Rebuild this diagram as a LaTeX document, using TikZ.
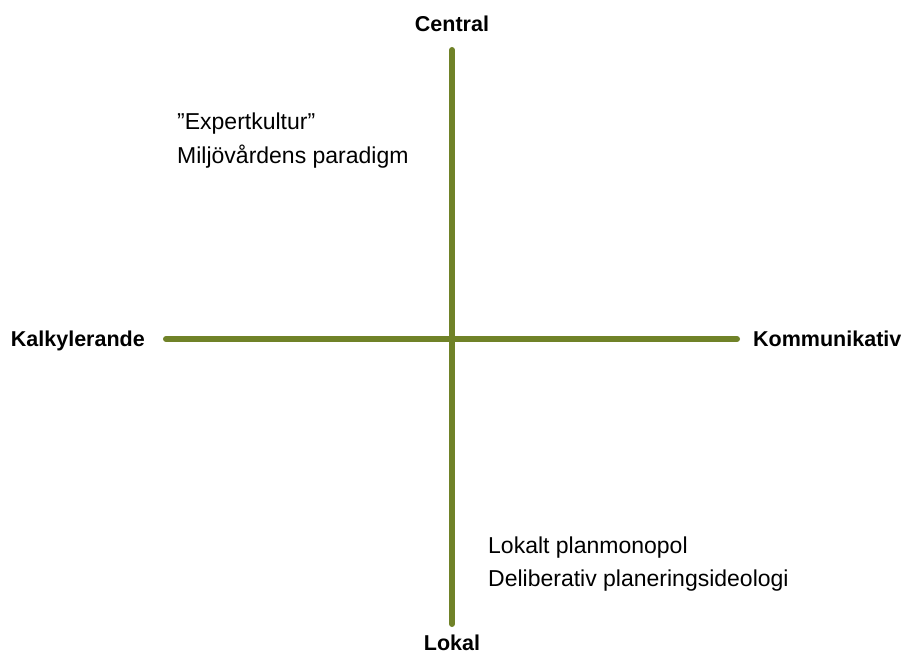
\documentclass[tikz,border=0pt]{standalone}
\usepackage{fontspec}
\setmainfont{Liberation Sans}
\usetikzlibrary{positioning}
\definecolor{axisgreen}{RGB}{112,130,40}
\tikzset{
	axis/.style={line width=6bp, color=axisgreen, line cap=round},
	pole/.style={inner sep=0pt, font=\fontsize{21.5bp}{26bp}\selectfont\bfseries},
	field/.style={inner sep=0pt, anchor=base west, font=\fontsize{23bp}{33bp}\selectfont}
}

\begin{document}
\begin{tikzpicture}[x=1bp, y=-1bp]
			%%%%% START %%%%%
			\useasboundingbox (0, 0) rectangle (904, 657);
			
			\coordinate (top) at (452, 50);
			\coordinate (bottom) at (452, 624);
			\coordinate (left) at (166, 339);
			\coordinate (right) at (737, 339);
			
			\draw[axis] (top) -- (bottom);
			\draw[axis] (left) -- (right);
			
			\node[pole, anchor=base] (central) at (452, 32) {Central};
			\node[pole, anchor=base] (lokal) at (452, 650) {Lokal};
			\node[pole, anchor=base east] (kalk) at (145, 346) {Kalkylerande};
			\node[pole, anchor=base west] (komm) at (753, 346) {Kommunikativ};
			
			\node[field] (expert) at (177, 130) {''Expertkultur''};
			\node[field] (miljo) at (177, 164) {Miljövårdens paradigm};
			
			\node[field] (monopol) at (488, 553) {Lokalt planmonopol};
			\node[field] (delib) at (488, 586) {Deliberativ planeringsideologi};
			%%%%% END %%%%%
\end{tikzpicture}
\end{document}
